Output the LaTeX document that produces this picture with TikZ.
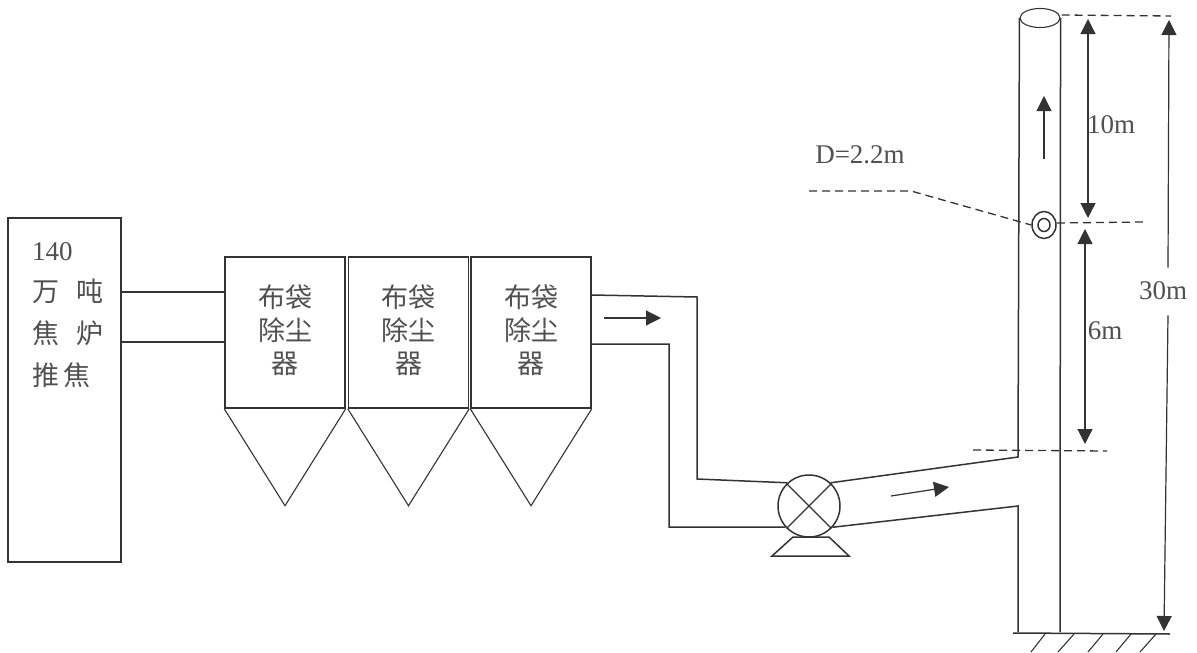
\documentclass[tikz,border=0pt]{standalone}
\usepackage{fontspec}
\setmainfont{Liberation Serif}
\newfontfamily\cjk{Noto Sans CJK SC}
\usetikzlibrary{arrows.meta,positioning,shapes.geometric}
\definecolor{inkgray}{HTML}{333333}
\definecolor{textgray}{HTML}{505050}
\DeclareRobustCommand{\BagText}{布袋\\除尘\\器\\[-27pt]\mbox{}}
\begin{document}
\begin{tikzpicture}[
    x=1pt, y=-1pt,
    node distance=2pt and 2pt,
    pipe/.style={
      draw=inkgray,
      line width=1.5pt,
    },
    thin pipe/.style={
      draw=inkgray,
      line width=1.1pt,
    },
    furnace/.style={
      pipe,
      minimum width=113pt,
      minimum height=344pt,
      inner sep=0pt,
    },
    bagbox/.style={
      pipe,
      minimum width=120pt,
      minimum height=151pt,
      align=center,
      inner sep=0pt,
      text=textgray,
      font=\cjk\fontsize{27}{33}\selectfont,
    },
    label/.style={
      inner sep=0pt,
      text=textgray,
      font=\fontsize{27}{33}\selectfont,
    },
    arrow/.style={
      -{Triangle[length=15pt,width=15pt]},
      line width=1.2pt,
      draw=inkgray,
      fill=inkgray,
    },
    darrow/.style={
      arrow,
      {Triangle[length=15pt,width=15pt]}-{Triangle[length=15pt,width=15pt]},
    },
    dimline/.style={
      draw=inkgray,
      line width=1.3pt,
      dash pattern=on 8pt off 5pt,
    },
  ]
    \useasboundingbox (0,0) rectangle (1197,653);
    % furnace and bag filters
    \node[furnace] (oven) at (64.5,390) {};
    \node[label, anchor=north west, align=left, font=\cjk\fontsize{27}{41.7}\selectfont]
      (ovenlabel) at (32,242) {{\fontspec{Liberation Serif}140}\\
      万\hspace{17pt}吨\\
      焦\hspace{17pt}炉\\
      推\hspace{4pt}焦};
    \node[bagbox] (bag1) at (285,332.5) {\BagText};
    \node[bagbox, right=of bag1] (bag2) {\BagText};
    \node[bagbox, right=1pt of bag2] (bag3) {\BagText};
    \foreach \n in {1,2,3} {
      \coordinate[below=97pt of bag\n.south] (tip\n);
      \draw[thin pipe] (bag\n.south west) -- (tip\n) -- (bag\n.south east);
    }
    \draw[pipe] (oven.east |- 0,292) -- (bag1.west |- 0,292);
    \draw[pipe] (oven.east |- 0,342) -- (bag1.west |- 0,342);
    % fan
    \node[pipe, circle, minimum size=62pt, inner sep=0pt] (fan) at (809,506) {};
    \draw[thin pipe] (fan.45) -- (fan.225);
    \draw[thin pipe] (fan.135) -- (fan.315);
    \coordinate (base1) at (793,537);
    \coordinate (base2) at (829,537);
    \coordinate (base3) at (849,556);
    \coordinate (base4) at (772,556);
    \draw[pipe] (base1) -- (base2) -- (base3) -- (base4) -- cycle;
    % duct from the filters to the fan
    \draw[pipe] (bag3.east |- 0,295) -- (697,297) -- (697,479) -- (fan.133);
    \draw[pipe] (bag3.east |- 0,344) -- (669,344) -- (669,527) -- (fan.222);
    \draw[arrow] (604,318) -- (661,318);
    % stack
    \coordinate (stackA) at (1018,457);
    \coordinate (stackB) at (1018,506);
    \coordinate (stackC) at (1018,632);
    \coordinate (stackD) at (1060,632);
    \node[thin pipe, ellipse, minimum width=40pt, minimum height=19pt, inner sep=0pt] (mouth) at (1040,18) {};
    \draw[pipe] (fan.47) -- (stackA) -- (mouth.west);
    \draw[pipe] (fan.318) -- (stackB) -- (stackC);
    \draw[pipe] (mouth.east) -- (stackD);
    \draw[pipe] (1013,633) -- (1170,634);
    \foreach \a/\b in {1045/1031,1074/1058,1103/1088,1131/1116,1156/1140}
      \draw[thin pipe] (\a,634) -- (\b,652);
    \draw[arrow] (891,496) -- (949,487);
    \draw[arrow] (1044,159) -- (1044,96);
    % sample port
    \node[pipe, ellipse, minimum width=24pt, minimum height=27pt, inner sep=0pt] (port) at (1044,225) {};
    \node[pipe, ellipse, minimum width=12pt, minimum height=13pt, inner sep=0pt] (portin) at (1044,225) {};
    % dimensions
    \draw[dimline] (mouth.east) ++(1,-3) -- (1171,16);
    \draw[dimline] (port.east) ++(0,-2) -- (1143,222);
    \draw[dimline] (973,450) -- (1107,451);
    \draw[dimline] (809,191) -- (911,191) -- (port.west);
    \draw[darrow] (1088,19) -- (1088,218);
    \draw[darrow] (1085,229) -- (1085,444);
    \node[label] (d30) at (1163,291) {30m};
    \draw[arrow] (d30.north -| 1168,0) ++(0,-14) -- (1169,20);
    \draw[arrow] (d30.south -| 1168,0) ++(0,15) -- (1164,631);
    \node[label] (d10) at (1111,125) {10m};
    \node[label] (d6) at (1105,331) {6m};
    \node[label] (dia) at (860,155) {D=2.2m};
  \end{tikzpicture}
\end{document}
